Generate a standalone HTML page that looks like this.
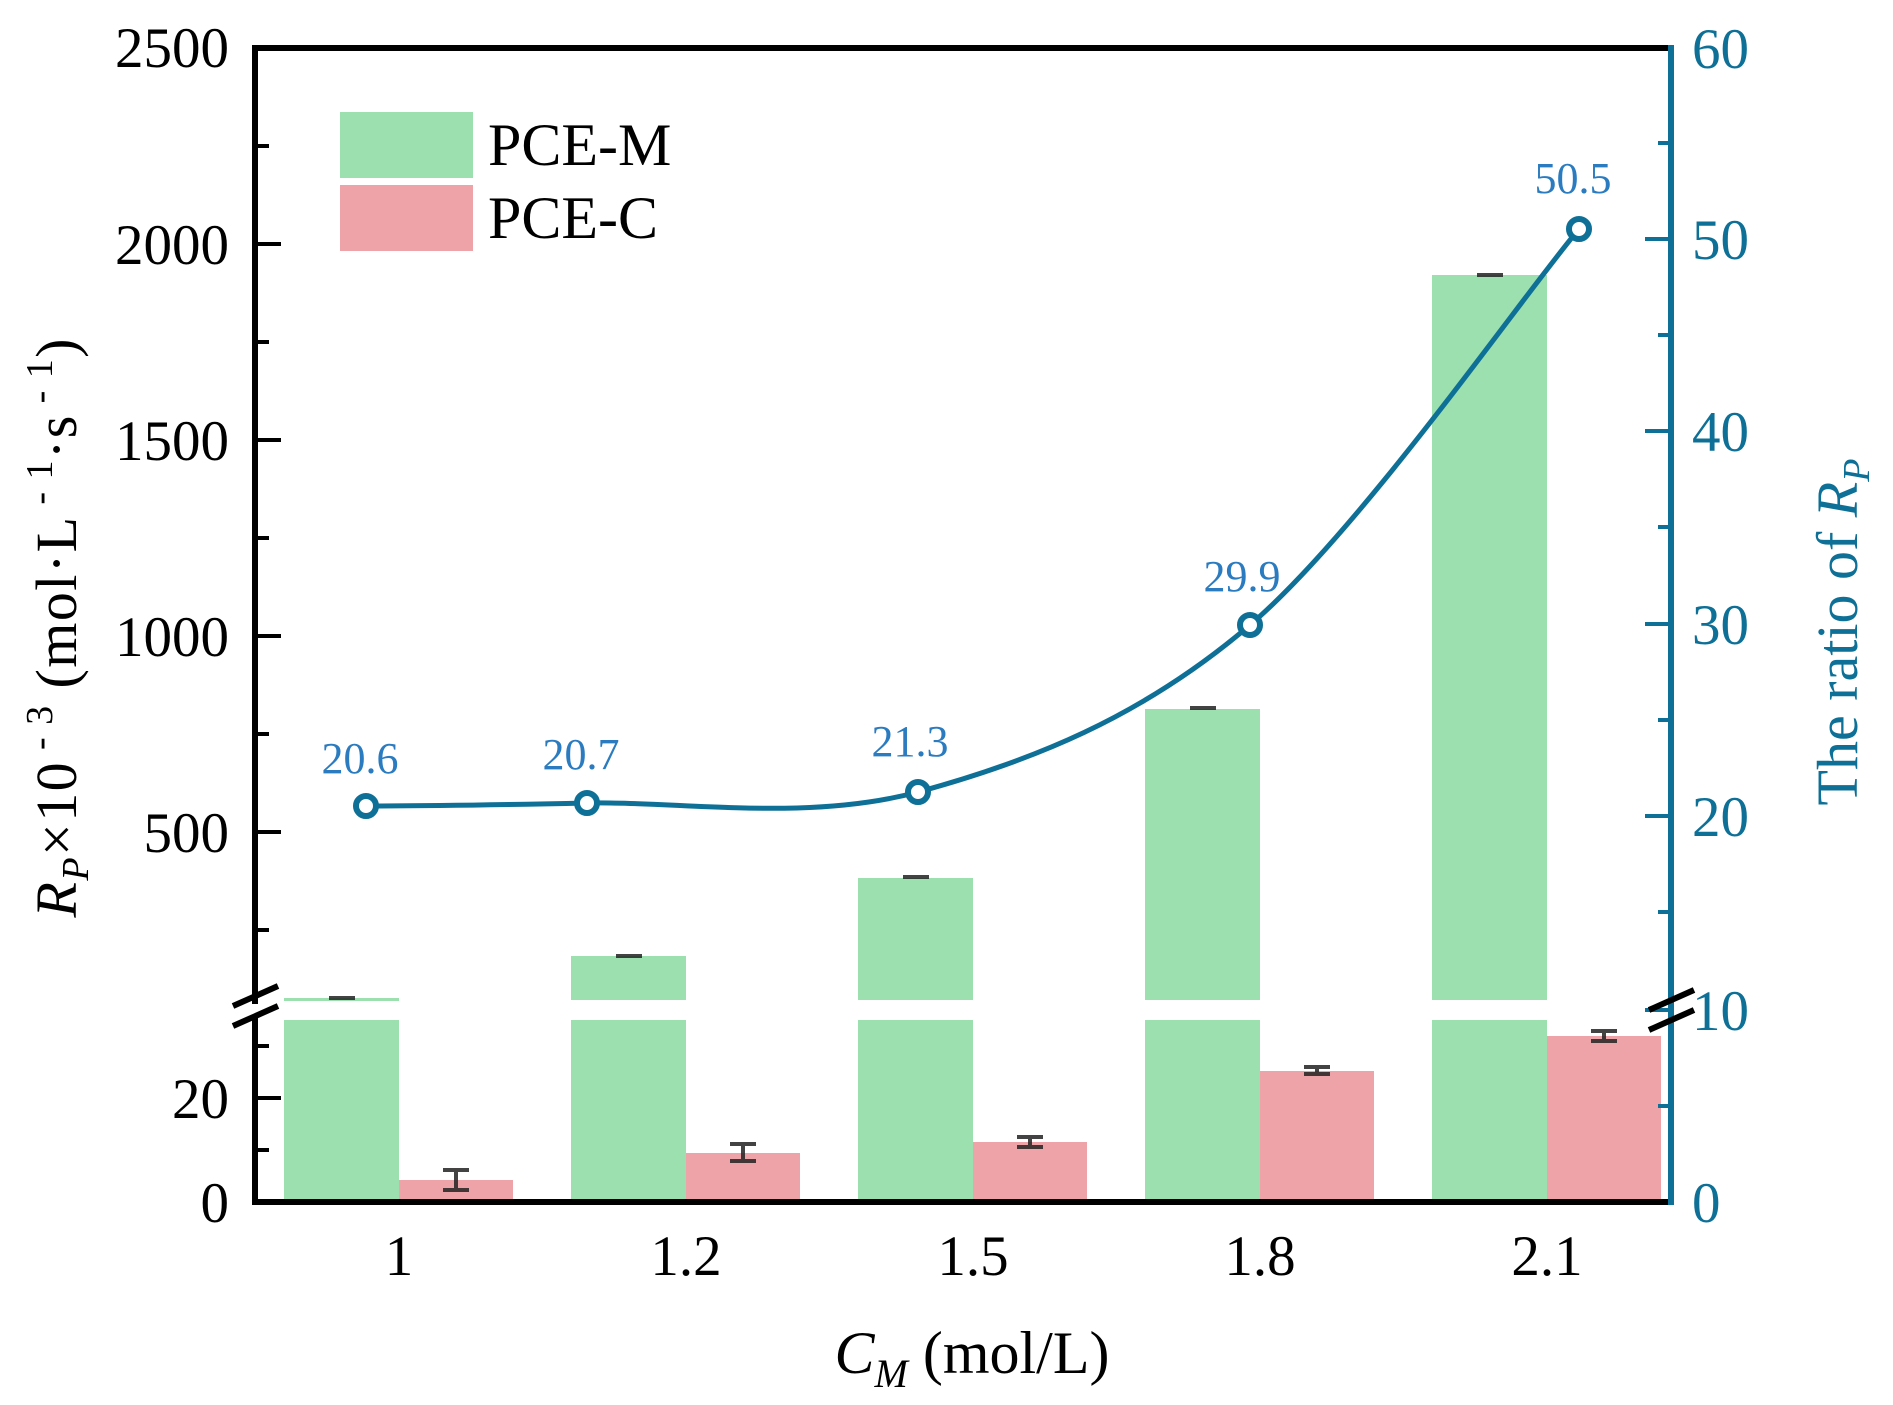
<!DOCTYPE html>
<html><head><meta charset="utf-8"><style>html,body{margin:0;padding:0;background:#fff}svg{display:block}</style></head>
<body>
<svg width="1893" height="1405" viewBox="0 0 1893 1405" xmlns="http://www.w3.org/2000/svg" font-family="'Liberation Serif', 'Times New Roman', serif">
<g fill="#9be0ae">
<rect x="284" y="998" width="115" height="3"/><rect x="284" y="1020" width="115" height="182"/>
<rect x="571" y="956" width="115" height="44"/><rect x="571" y="1020" width="115" height="182"/>
<rect x="858" y="878" width="115" height="122"/><rect x="858" y="1020" width="115" height="182"/>
<rect x="1145" y="709" width="115" height="291"/><rect x="1145" y="1020" width="115" height="182"/>
<rect x="1432" y="275" width="115" height="725"/><rect x="1432" y="1020" width="115" height="182"/>
</g>
<g fill="#eea3a9">
<rect x="399" y="1180" width="114" height="22"/>
<rect x="686" y="1153" width="114" height="49"/>
<rect x="973" y="1142" width="114" height="60"/>
<rect x="1260" y="1071" width="114" height="131"/>
<rect x="1547" y="1036" width="114" height="166"/>
</g>
<g stroke="#222" stroke-width="4" fill="none" opacity="0.85">
<path d="M329 998h26M342 996v4"/>
<path d="M616 956h26M629 954v4"/>
<path d="M903 877h26M916 876v3"/>
<path d="M1190 708h26"/>
<path d="M1477 275h26"/>
<path d="M443 1170h26M443 1190h26M456 1170v20"/>
<path d="M730 1144h26M730 1161h26M743 1144v17"/>
<path d="M1017 1137h26M1017 1147h26M1030 1137v10"/>
<path d="M1304 1067h26M1304 1074h26M1317 1067v7"/>
<path d="M1591 1031h26M1591 1041h26M1604 1031v10"/>
</g>
<g stroke="#000" stroke-width="6" fill="none">
<path d="M255 48H1671"/>
<path d="M252 1202H1671"/>
<path d="M255 45V1004M255 1016V1205"/>
</g>
<g stroke="#000" stroke-width="4">
<path d="M255 244h26M255 440h26M255 636h26M255 832h26M255 1098h26"/>
<path d="M255 146h14M255 342h14M255 538h14M255 734h14M255 930h14M255 1150h14M255 1046h14"/>
</g>
<g stroke="#0e7096" stroke-width="6" fill="none">
<path d="M1671 45V1205"/>
</g>
<g stroke="#0e7096" stroke-width="4">
<path d="M1671 239h-26M1671 431h-26M1671 624h-26M1671 816h-26M1671 1010h-26"/>
<path d="M1671 143h-13M1671 335h-13M1671 527h-13M1671 720h-13M1671 912h-13M1671 1106h-13"/>
</g>
<g stroke="#000" stroke-width="6">
<path d="M233 1006L278 986M233 1026L278 1006"/>
<path d="M1649 1010L1694 990M1649 1030L1694 1010"/>
</g>
<g font-size="57" text-anchor="end" fill="#000">
<text x="229" y="67">2500</text>
<text x="229" y="264">2000</text>
<text x="229" y="460">1500</text>
<text x="229" y="656">1000</text>
<text x="229" y="852">500</text>
<text x="229" y="1118">20</text>
<text x="229" y="1222">0</text>
</g>
<g font-size="57" fill="#0e7096">
<text x="1692" y="68">60</text>
<text x="1692" y="259">50</text>
<text x="1692" y="451">40</text>
<text x="1692" y="644">30</text>
<text x="1692" y="836">20</text>
<text x="1692" y="1030">10</text>
<text x="1692" y="1222">0</text>
</g>
<g font-size="57" text-anchor="middle" fill="#000">
<text x="399" y="1275">1</text>
<text x="686" y="1275">1.2</text>
<text x="973" y="1275">1.5</text>
<text x="1260" y="1275">1.8</text>
<text x="1547" y="1275">2.1</text>
</g>
<text x="972" y="1373" font-size="60" text-anchor="middle"><tspan font-style="italic">C</tspan><tspan font-style="italic" font-size="40" dy="14">M</tspan><tspan dy="-14">  (mol/L)</tspan></text>
<text transform="translate(76,628) rotate(-90)" font-size="58" text-anchor="middle" textLength="579" lengthAdjust="spacing"><tspan font-style="italic">R</tspan><tspan font-style="italic" font-size="38" dy="12">P</tspan><tspan dy="-12">×10</tspan><tspan font-size="38" dy="-24"> - 3</tspan><tspan dy="24"> (mol·L</tspan><tspan font-size="38" dy="-24"> - 1</tspan><tspan dy="24">·s</tspan><tspan font-size="38" dy="-24"> - 1</tspan><tspan dy="24">)</tspan></text>
<text transform="translate(1857,632) rotate(-90)" font-size="58" text-anchor="middle" fill="#0e7096">The ratio of <tspan font-style="italic">R</tspan><tspan font-style="italic" font-size="38" dy="12">P</tspan></text>
<rect x="340" y="112" width="133" height="66" fill="#9be0ae"/>
<rect x="340" y="185" width="133" height="66" fill="#eea3a9"/>
<text x="488" y="165" font-size="60">PCE-M</text>
<text x="488" y="238" font-size="60">PCE-C</text>
<path d="M366 806C403 806 495 805 587 803C679 801 807 822 918 792C1028 762 1140 719 1250 625C1360 531 1524 294 1579 229" stroke="#0e7096" stroke-width="5" fill="none"/>
<g stroke="#0e7096" stroke-width="6" fill="#fff">
<circle cx="366" cy="806" r="10"/><circle cx="587" cy="803" r="10"/><circle cx="918" cy="792" r="10"/><circle cx="1250" cy="625" r="10"/><circle cx="1579" cy="229" r="10"/>
</g>
<g font-size="44" fill="#2a7bbf" text-anchor="middle">
<text x="360" y="773">20.6</text>
<text x="581" y="769">20.7</text>
<text x="910" y="756">21.3</text>
<text x="1242" y="591">29.9</text>
<text x="1573" y="193">50.5</text>
</g>
</svg>
</body></html>
